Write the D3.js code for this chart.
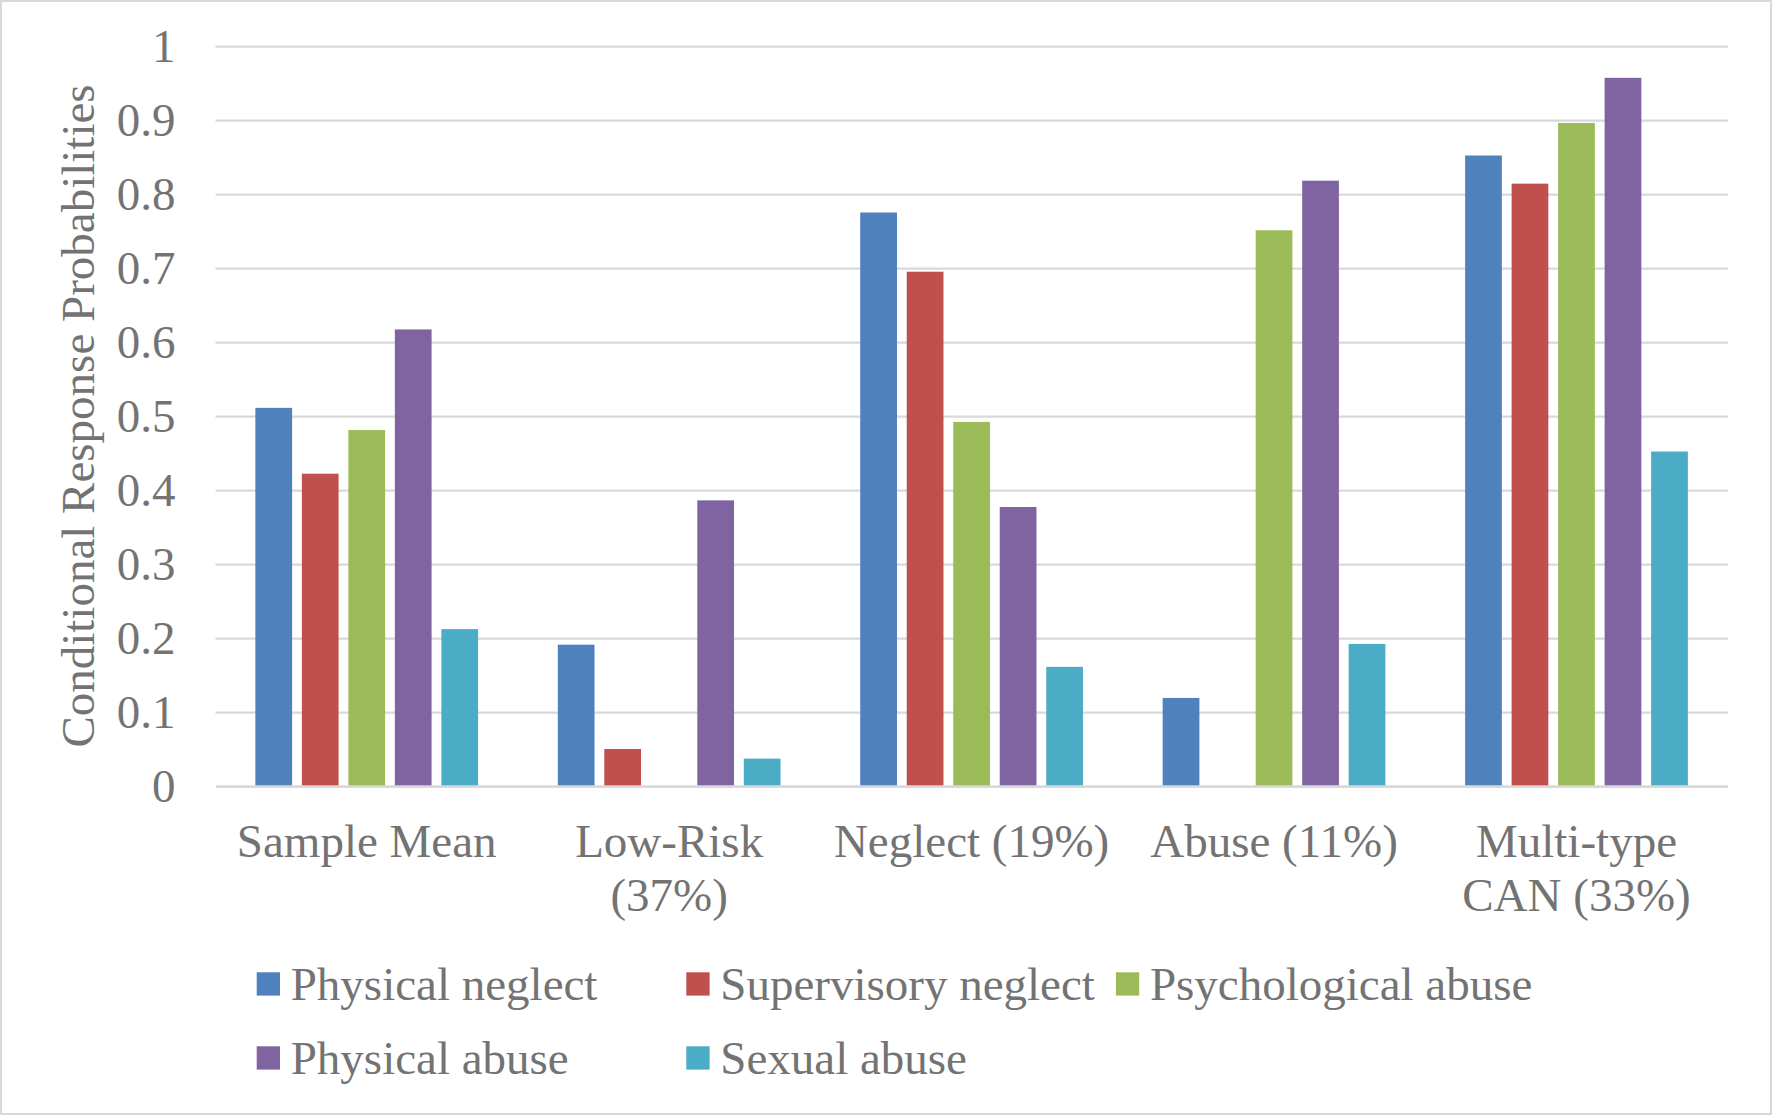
<!DOCTYPE html>
<html>
<head>
<meta charset="utf-8">
<script src="https://cdn.jsdelivr.net/npm/d3@7"></script>
<style>
  html, body { margin: 0; padding: 0; background: #ffffff; }
  svg { display: block; }
</style>
</head>
<body>
<svg id="chart" width="1773" height="1116"></svg>
<script>
// ---- data ----
const categories = ["Sample Mean", "Low-Risk (37%)", "Neglect (19%)", "Abuse (11%)", "Multi-type CAN (33%)"];
const categoryLabelLines = [["Sample Mean"], ["Low-Risk", "(37%)"], ["Neglect (19%)"], ["Abuse (11%)"], ["Multi-type", "CAN (33%)"]];
const seriesNames = ["Physical neglect", "Supervisory neglect", "Psychological abuse", "Physical abuse", "Sexual abuse"];
const physicalNeglect    = [0.511, 0.191, 0.775, 0.119, 0.852];
const supervisoryNeglect = [0.422, 0.050, 0.695, 0.000, 0.814];
const psychologicalAbuse = [0.481, 0.000, 0.492, 0.751, 0.896];
const physicalAbuse      = [0.617, 0.386, 0.377, 0.818, 0.957];
const sexualAbuse        = [0.212, 0.037, 0.161, 0.192, 0.452];
const seriesColors = ["#4F81BD", "#C0504D", "#9BBB59", "#8064A2", "#4BACC6"];
const yTickValues = [0, 0.1, 0.2, 0.3, 0.4, 0.5, 0.6, 0.7, 0.8, 0.9, 1];
const yTickLabels = ["0", "0.1", "0.2", "0.3", "0.4", "0.5", "0.6", "0.7", "0.8", "0.9", "1"];
const yAxisTitle = "Conditional Response Probabilities";

const seriesValues = [physicalNeglect, supervisoryNeglect, psychologicalAbuse, physicalAbuse, sexualAbuse];

// ---- layout ----
const W = 1773, H = 1116;
const plotLeft = 215.5, plotRight = 1727.7, plotTop = 46, plotBottom = 786;
const FONT = "'Liberation Serif', 'Times New Roman', serif";
const FS = 47;
const TEXT = "#737373";
const GRID = "#d9d9d9";

const svg = d3.select("#chart");
svg.append("rect").attr("x", 0).attr("y", 0).attr("width", W).attr("height", H).attr("fill", "#fff");
svg.append("rect").attr("x", 1).attr("y", 1).attr("width", W - 3).attr("height", H - 3)
  .attr("fill", "none").attr("stroke", GRID).attr("stroke-width", 2);

const x0 = d3.scaleBand().domain(categories).range([plotLeft, plotRight]).padding(0);
const x1 = d3.scaleBand().domain(seriesNames).range([0, x0.bandwidth()])
  .paddingInner(0.21).paddingOuter(0.857);
const y = d3.scaleLinear().domain([0, 1]).range([plotBottom, plotTop]);

// y axis with gridlines
const yAxis = d3.axisLeft(y)
  .tickValues(yTickValues)
  .tickFormat((d, i) => yTickLabels[i])
  .tickSize(-(plotRight - plotLeft))
  .tickPadding(40);
const gy = svg.append("g").attr("transform", `translate(${plotLeft},0)`).call(yAxis);
gy.select(".domain").remove();
gy.selectAll(".tick line").attr("stroke", GRID).attr("stroke-width", 2.25)
  .filter(d => d === 0).remove();
gy.selectAll(".tick text")
  .attr("fill", TEXT).attr("font-family", FONT).attr("font-size", FS)
  .attr("dy", "0.33em");

// bars
const groups = svg.append("g").selectAll("g")
  .data(categories)
  .join("g")
  .attr("transform", d => `translate(${x0(d)},0)`);
groups.selectAll("rect")
  .data((c, ci) => seriesNames.map((s, si) => ({ s, si, v: seriesValues[si][ci] })))
  .join("rect")
  .attr("x", d => x1(d.s))
  .attr("width", x1.bandwidth())
  .attr("y", d => y(d.v))
  .attr("height", d => y(0) - y(d.v))
  .attr("fill", d => seriesColors[d.si]);

// x axis
const xAxis = d3.axisBottom(x0).tickSize(0).tickSizeOuter(0);
const gx = svg.append("g").attr("transform", `translate(0,${plotBottom})`).call(xAxis);
gx.select(".domain").attr("stroke", GRID).attr("stroke-width", 2.75);
gx.selectAll(".tick text").each(function (d, i) {
  const t = d3.select(this);
  t.text(null).attr("dy", null).attr("y", 0)
    .attr("fill", TEXT).attr("font-family", FONT).attr("font-size", FS);
  categoryLabelLines[i].forEach((line, li) => {
    t.append("tspan").attr("x", 0).attr("y", 70.7 + li * 54.3).text(line);
  });
});

// y axis title
svg.append("text")
  .attr("transform", `translate(93.5,${(plotTop + plotBottom) / 2}) rotate(-90)`)
  .attr("text-anchor", "middle")
  .attr("fill", TEXT).attr("font-family", FONT).attr("font-size", FS)
  .text(yAxisTitle);

// legend
const legendX0 = 256.7, legendColStep = 429.6, legendRow0 = 1000, legendRowStep = 74, perRow = 3;
const legend = svg.append("g").selectAll("g")
  .data(seriesNames)
  .join("g")
  .attr("transform", (d, i) => `translate(${legendX0 + (i % perRow) * legendColStep},${legendRow0 + Math.floor(i / perRow) * legendRowStep})`);
legend.append("rect")
  .attr("x", 0).attr("y", -27.7).attr("width", 23.3).attr("height", 23.3)
  .attr("fill", (d, i) => seriesColors[i]);
legend.append("text")
  .attr("x", 34).attr("y", 0)
  .attr("fill", TEXT).attr("font-family", FONT).attr("font-size", FS)
  .text(d => d);
</script>
</body>
</html>
